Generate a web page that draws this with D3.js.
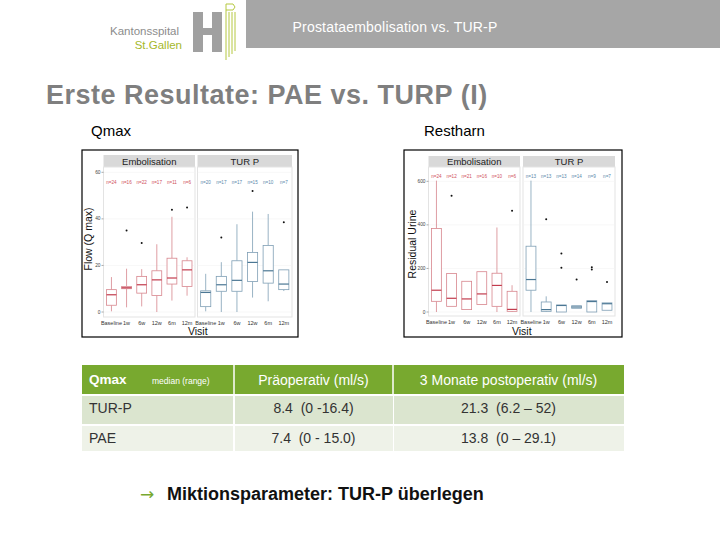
<!DOCTYPE html>
<html>
<head>
<meta charset="utf-8">
<script src="https://cdn.jsdelivr.net/npm/d3@7"></script>
<style>
  body { margin: 0; background: #fff; }
  svg { display: block; font-family: "Liberation Sans", Arial, sans-serif; }
</style>
</head>
<body>
<div id="slide"></div>
<script>
// ---- data ----
const visits = ["Baseline", "1w", "6w", "12w", "6m", "12m"];
const groups = ["Embolisation", "TUR P"];

// box stats: [low whisker, q1, median, q3, high whisker]
const flowEmb = [[0.3, 2.9, 7.4, 9.6, 15.0], [2, 10, 10.4, 11, 18.6], [2.4, 8.1, 11.7, 15.3, 18.4],
  [0, 7.1, 13.8, 17.7, 29.1], [4.9, 12, 14.6, 23.1, 40.9], [7, 11, 18.1, 22, 23.5]];
const flowTur = [[0.3, 2.3, 8.4, 9.1, 16.4], [0, 8.9, 11.7, 15.3, 21.4], [0, 8.9, 13.6, 22, 37.7],
  [6.2, 13.1, 21.3, 25.6, 43.1], [4.6, 12.4, 17.7, 28.6, 42.1], [9, 9.6, 12, 18.1, 18.1]];
const flowEmbOut = [[], [35], [29.6], [], [43.9], [44.9]];
const flowTurOut = [[], [32], [], [52], [], [38.6]];
const flowEmbN = ["n=24", "n=16", "n=22", "n=17", "n=11", "n=6"];
const flowTurN = ["n=20", "n=17", "n=17", "n=15", "n=10", "n=7"];
const flowTicks = [0, 20, 40, 60];

const urinEmb = [[0, 49, 100, 383, 603], [26, 26, 63, 177, 177], [11, 11, 60, 141, 141],
  [34, 34, 83, 185, 185], [0, 26, 122, 178, 388], [0, 3, 12, 95, 123]];
const urinTur = [[0, 100, 149, 302, 603], [0, 3, 11, 46, 72], [0, 0, 30, 32, 32],
  [17, 17, 23, 29, 29], [0, 0, 48, 52, 52], [8, 8, 38, 42, 42]];
const urinEmbOut = [[], [534], [], [], [], [465]];
const urinTurOut = [[], [426], [268, 203], [149], [206, 195], [138]];
const urinEmbN = ["n=24", "n=12", "n=21", "n=16", "n=10", "n=6"];
const urinTurN = ["n=13", "n=13", "n=13", "n=14", "n=9", "n=7"];
const urinTicks = [0, 200, 400, 600];

// table
const tableHead = ["Präoperativ (ml/s)", "3 Monate postoperativ (ml/s)"];
const tableRows = ["TUR-P", "PAE"];
const tablePre = ["8.4  (0 -16.4)", "7.4  (0 - 15.0)"];
const tablePost = ["21.3  (6.2 – 52)", "13.8  (0 – 29.1)"];

const colours = {
  emb: { line: "#d7858d", median: "#c23b4d", text: "#d0505c" },
  tur: { line: "#7f9fb5", median: "#4b7794", text: "#5a88aa" }
};

const svg = d3.select("#slide").append("svg")
  .attr("width", 720).attr("height", 540);

// ---- header ----
svg.append("rect").attr("x", 246).attr("y", 0).attr("width", 474).attr("height", 48).attr("fill", "#a6a6a6");
svg.append("text").attr("x", 395).attr("y", 32).attr("text-anchor", "middle")
  .attr("fill", "#fff").attr("font-size", 14).attr("letter-spacing", 0.2)
  .text("Prostataembolisation vs. TUR-P");

// logo
svg.append("text").attr("x", 110).attr("y", 35).attr("fill", "#8c8c8c").attr("font-size", 11.5)
  .text("Kantonsspital");
svg.append("text").attr("x", 182).attr("y", 49).attr("text-anchor", "end")
  .attr("fill", "#a5b82a").attr("font-size", 11.5).text("St.Gallen");
const logo = svg.append("g").attr("fill", "#a0a0a0");
logo.append("rect").attr("x", 193).attr("y", 12).attr("width", 10).attr("height", 40);
logo.append("rect").attr("x", 212).attr("y", 12).attr("width", 10).attr("height", 40);
logo.append("rect").attr("x", 193).attr("y", 28).attr("width", 29).attr("height", 7);
const flag = svg.append("g").attr("stroke", "#b5c840").attr("fill", "none").attr("stroke-width", 1);
[226, 229, 232, 235].forEach((x, i) => {
  flag.append("line").attr("x1", x).attr("x2", x).attr("y1", i === 0 ? 4 : 12).attr("y2", 60 - i * 3);
});
flag.append("path").attr("d", "M226,4 L233,4 L235,7 L233,10 L226,10");

// ---- slide title ----
svg.append("text").attr("x", 46).attr("y", 104).attr("fill", "#7f7f7f")
  .attr("font-size", 27).attr("font-weight", "bold").attr("letter-spacing", 0.5)
  .text("Erste Resultate: PAE vs. TURP (I)");
svg.append("text").attr("x", 91).attr("y", 136).attr("font-size", 15).text("Qmax");
svg.append("text").attr("x", 424).attr("y", 136).attr("font-size", 15).text("Restharn");

// ---- faceted boxplot ----
function drawFacet(cfg) {
  const g = svg.append("g");
  g.append("rect").attr("x", cfg.box[0]).attr("y", cfg.box[1])
    .attr("width", cfg.box[2] - cfg.box[0]).attr("height", cfg.box[3] - cfg.box[1])
    .attr("fill", "#fff").attr("stroke", "#000").attr("stroke-width", 1.2);

  const y = d3.scaleLinear().domain(cfg.domain).range(cfg.yRange);

  const panels = [
    { x0: cfg.panels[0][0], x1: cfg.panels[0][1], stats: cfg.emb, out: cfg.embOut, n: cfg.embN, col: colours.emb, name: groups[0] },
    { x0: cfg.panels[1][0], x1: cfg.panels[1][1], stats: cfg.tur, out: cfg.turOut, n: cfg.turN, col: colours.tur, name: groups[1] }
  ];

  panels.forEach(p => {
    const x = d3.scaleBand().domain(visits).range([p.x0, p.x1]).paddingInner(0.35).paddingOuter(0.2);
    const pg = g.append("g");

    // strip
    pg.append("rect").attr("x", p.x0).attr("y", cfg.strip[0]).attr("width", p.x1 - p.x0)
      .attr("height", cfg.strip[1] - cfg.strip[0]).attr("fill", "#d9d9d9");
    pg.append("text").attr("x", (p.x0 + p.x1) / 2).attr("y", cfg.strip[1] - 2.5)
      .attr("text-anchor", "middle").attr("font-size", 9.5).attr("fill", "#222").text(p.name);

    // panel
    pg.append("rect").attr("x", p.x0).attr("y", cfg.strip[1]).attr("width", p.x1 - p.x0)
      .attr("height", cfg.plotBottom - cfg.strip[1]).attr("fill", "#fff").attr("stroke", "#e3e3e3");
    pg.selectAll(".grid").data(cfg.ticks).join("line")
      .attr("x1", p.x0).attr("x2", p.x1).attr("y1", d => y(d)).attr("y2", d => y(d))
      .attr("stroke", "#f2f2f2").attr("stroke-width", 0.6);

    // x axis labels
    pg.selectAll(".xl").data(visits).join("text")
      .attr("x", d => x(d) + x.bandwidth() / 2).attr("y", cfg.plotBottom + 8)
      .attr("text-anchor", "middle").attr("font-size", 5.5).attr("fill", "#333").text(d => d);

    // n labels
    pg.selectAll(".nl").data(p.n).join("text")
      .attr("x", (d, i) => x(visits[i]) + x.bandwidth() / 2).attr("y", cfg.nY)
      .attr("text-anchor", "middle").attr("font-size", 4.6).attr("fill", p.col.text).text(d => d);

    // boxes
    const b = pg.selectAll(".bx").data(p.stats).join("g")
      .attr("transform", (d, i) => `translate(${x(visits[i])},0)`);
    const w = x.bandwidth();
    b.append("line").attr("x1", w / 2).attr("x2", w / 2)
      .attr("y1", d => y(d[0])).attr("y2", d => y(d[1])).attr("stroke", p.col.line).attr("stroke-width", 0.8);
    b.append("line").attr("x1", w / 2).attr("x2", w / 2)
      .attr("y1", d => y(d[3])).attr("y2", d => y(d[4])).attr("stroke", p.col.line).attr("stroke-width", 0.8);
    b.append("rect").attr("x", 0).attr("width", w)
      .attr("y", d => y(d[3])).attr("height", d => Math.max(y(d[1]) - y(d[3]), 0.5))
      .attr("fill", "#fff").attr("stroke", p.col.line).attr("stroke-width", 0.8);
    b.append("line").attr("x1", 0).attr("x2", w)
      .attr("y1", d => y(d[2])).attr("y2", d => y(d[2])).attr("stroke", p.col.median).attr("stroke-width", 1.2);
    b.each(function (d, i) {
      d3.select(this).selectAll("circle").data(p.out[i]).join("circle")
        .attr("cx", w / 2).attr("cy", v => y(v)).attr("r", 1).attr("fill", "#111");
    });
  });

  // y axis
  const ya = g.append("g");
  ya.selectAll("line").data(cfg.ticks).join("line")
    .attr("x1", cfg.panels[0][0] - 2).attr("x2", cfg.panels[0][0])
    .attr("y1", d => y(d)).attr("y2", d => y(d)).attr("stroke", "#555").attr("stroke-width", 0.5);
  ya.selectAll("text").data(cfg.ticks).join("text")
    .attr("x", cfg.panels[0][0] - 3).attr("y", d => y(d) + 1.6)
    .attr("text-anchor", "end").attr("font-size", 4.8).attr("fill", "#444").text(d => d);

  g.append("text").attr("transform", `translate(${cfg.yTitleX},${cfg.yTitleY}) rotate(-90)`)
    .attr("text-anchor", "middle").attr("font-size", 10.5).attr("fill", "#111").text(cfg.yTitle);
  g.append("text").attr("x", (cfg.panels[0][0] + cfg.panels[1][1]) / 2).attr("y", cfg.box[3] - 2.5)
    .attr("text-anchor", "middle").attr("font-size", 10.5).attr("fill", "#111").text("Visit");
}

drawFacet({
  box: [82, 150, 298, 337], panels: [[103.5, 195], [197.5, 292]], strip: [155, 167], plotBottom: 317,
  domain: [0, 60], yRange: [312, 172.3], ticks: flowTicks, nY: 184,
  emb: flowEmb, tur: flowTur, embOut: flowEmbOut, turOut: flowTurOut, embN: flowEmbN, turN: flowTurN,
  yTitle: "Flow (Q max)", yTitleX: 92, yTitleY: 239
});

drawFacet({
  box: [404, 150, 622, 337], panels: [[428.5, 520], [523, 615]], strip: [156, 167], plotBottom: 316,
  domain: [0, 600], yRange: [312, 181.3], ticks: urinTicks, nY: 178,
  emb: urinEmb, tur: urinTur, embOut: urinEmbOut, turOut: urinTurOut, embN: urinEmbN, turN: urinTurN,
  yTitle: "Residual Urine", yTitleX: 416, yTitleY: 244
});

// ---- table ----
const colX = [82, 234, 393, 624];
const rowY = [365, 396, 426, 453];
const tg = svg.append("g");
tg.append("rect").attr("x", colX[0]).attr("y", rowY[0]).attr("width", colX[3] - colX[0])
  .attr("height", rowY[1] - rowY[0] - 2).attr("fill", "#78a92f");
[1, 2].forEach(c => tg.append("line").attr("x1", colX[c]).attr("x2", colX[c])
  .attr("y1", rowY[0]).attr("y2", rowY[1] - 2).attr("stroke", "#fff").attr("stroke-width", 1.5));
const rowFill = ["#dbe5cf", "#eef2e8"];
tableRows.forEach((r, i) => {
  [0, 1, 2].forEach(c => {
    tg.append("rect").attr("x", colX[c] + (c ? 1 : 0)).attr("y", rowY[i + 1])
      .attr("width", colX[c + 1] - colX[c] - 1).attr("height", rowY[i + 2] - rowY[i + 1] - 2)
      .attr("fill", rowFill[i]);
  });
  const ty = rowY[i + 1] + 17;
  tg.append("text").attr("x", 89).attr("y", ty).attr("font-size", 14).attr("fill", "#333").text(r);
  tg.append("text").attr("x", (colX[1] + colX[2]) / 2).attr("y", ty).attr("text-anchor", "middle")
    .attr("font-size", 14).attr("fill", "#333").style("white-space", "pre").text(tablePre[i]);
  tg.append("text").attr("x", (colX[2] + colX[3]) / 2).attr("y", ty).attr("text-anchor", "middle")
    .attr("font-size", 14).attr("fill", "#333").style("white-space", "pre").text(tablePost[i]);
});
tg.append("text").attr("x", 89).attr("y", 384).attr("font-size", 13.5).attr("font-weight", "bold")
  .attr("fill", "#fff").text("Qmax");
tg.append("text").attr("x", 152).attr("y", 384).attr("font-size", 8.5).attr("fill", "#fff").text("median (range)");
tableHead.forEach((h, i) => {
  tg.append("text").attr("x", (colX[i + 1] + colX[i + 2]) / 2).attr("y", 384.5).attr("text-anchor", "middle")
    .attr("font-size", 14).attr("fill", "#fff").text(h);
});

// ---- conclusion ----
svg.append("text").attr("x", 140).attr("y", 500).attr("font-size", 17)
  .attr("font-family", "DejaVu Sans").attr("fill", "#78a92f").text("→");
svg.append("text").attr("x", 167).attr("y", 500).attr("font-size", 18).attr("font-weight", "bold")
  .attr("fill", "#111").text("Miktionsparameter: TUR-P überlegen");
</script>
</body>
</html>
